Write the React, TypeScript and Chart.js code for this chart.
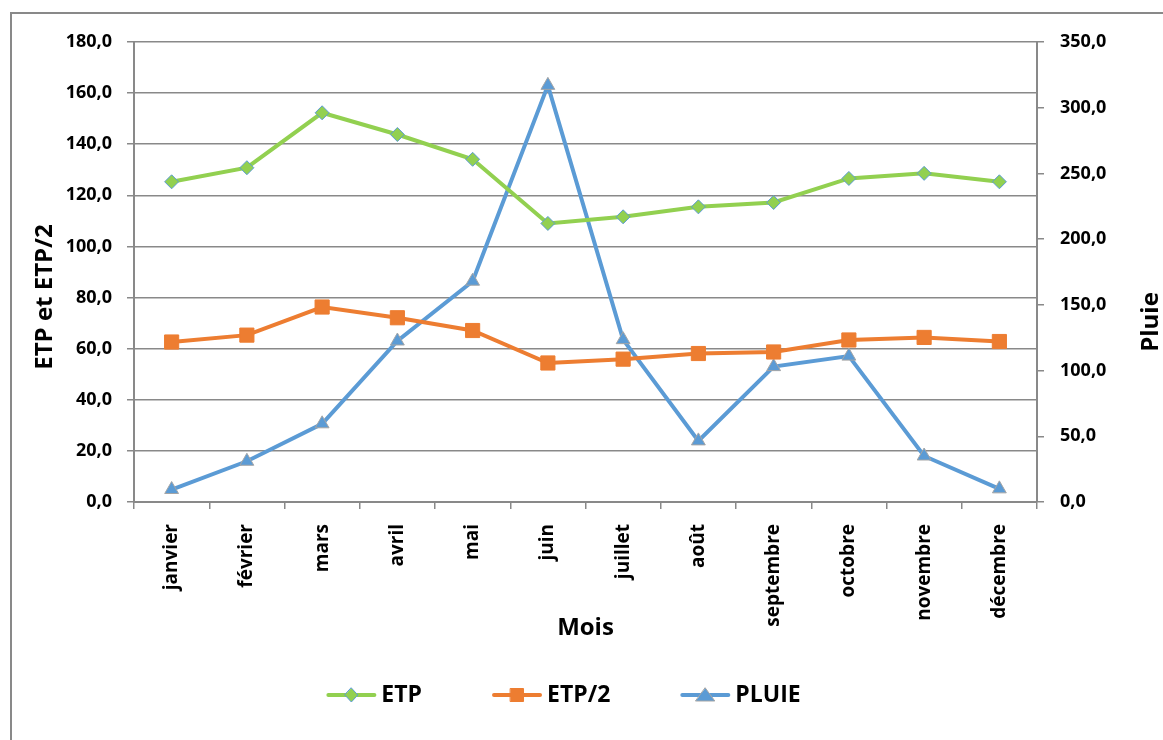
import React, { useEffect, useRef } from "react";
import { Chart, registerables } from "chart.js";

Chart.register(...registerables);

const MONTHS = ["janvier", "février", "mars", "avril", "mai", "juin", "juillet", "août", "septembre", "octobre", "novembre", "décembre"];
const ETP = [125.3, 130.8, 152.3, 143.8, 134.1, 109.0, 111.6, 115.5, 117.2, 126.6, 128.6, 125.3];
const ETP_HALF = [62.6, 65.3, 76.3, 72.1, 67.1, 54.4, 55.9, 58.1, 58.7, 63.4, 64.4, 62.8];
const PLUIE = [9.5, 31, 59.5, 122.5, 168, 317, 123.5, 46.5, 103, 111, 35, 10];
const SERIES_NAMES = ["ETP", "ETP/2", "PLUIE"];
const MARKERS = ["diamond", "square", "triangle"];
const X_TITLE = "Mois";
const Y_TITLE = "ETP et ETP/2";
const Y1_TITLE = "Pluie";
const Y_MAX = 180;
const Y_STEP = 20;
const Y1_MAX = 350;
const Y1_STEP = 50;

const FONT = '"Open Sans", "Noto Sans", sans-serif';
const GREEN = "#92D050";
const ORANGE = "#ED7D31";
const BLUE = "#5B9BD5";
const GREY = "#898989";

function fmt(v: number | string) {
  return Number(v).toFixed(1).replace(".", ",");
}

function drawMarker(ctx: CanvasRenderingContext2D, kind: string, x: number, y: number, fill: string, border: string) {
  ctx.save();
  ctx.fillStyle = fill;
  ctx.strokeStyle = border;
  ctx.lineWidth = 1;
  ctx.beginPath();
  if (kind === "diamond") {
    ctx.moveTo(x, y - 7);
    ctx.lineTo(x + 6.5, y);
    ctx.lineTo(x, y + 7);
    ctx.lineTo(x - 6.5, y);
    ctx.closePath();
  } else if (kind === "square") {
    ctx.rect(x - 6.5, y - 6.5, 13, 13);
  } else {
    ctx.moveTo(x, y - 7);
    ctx.lineTo(x + 9.5, y + 6);
    ctx.lineTo(x - 9.5, y + 6);
    ctx.closePath();
  }
  ctx.fill();
  ctx.stroke();
  ctx.restore();
}

const legendPlugin = {
  id: "excelLegend",
  afterDraw(chart: any) {
    const ctx: CanvasRenderingContext2D = chart.ctx;
    ctx.save();
    ctx.font = `bold 23px ${FONT}`;
    const LINE = 50;
    const GAP = 5;
    const SEP = 70;
    const items = chart.data.datasets.map((d: any) => ({ d, w: ctx.measureText(d.label).width }));
    const total =
      items.reduce((s: number, it: any) => s + LINE + GAP + it.w, 0) + SEP * (items.length - 1);
    let x = (chart.chartArea.left + chart.chartArea.right) / 2 - 22 - total / 2;
    const y = chart.height - 45;
    items.forEach(({ d, w }: any, i: number) => {
      ctx.strokeStyle = d.borderColor;
      ctx.lineWidth = 4;
      ctx.lineCap = "round";
      ctx.beginPath();
      ctx.moveTo(x + 2, y);
      ctx.lineTo(x + LINE - 2, y);
      ctx.stroke();
      drawMarker(ctx, MARKERS[i], x + LINE / 2, y, d.pointBackgroundColor, d.pointBorderColor);
      ctx.fillStyle = "#000";
      ctx.textAlign = "left";
      ctx.textBaseline = "middle";
      ctx.fillText(d.label, x + LINE + GAP, y);
      x += LINE + GAP + w + SEP;
    });
    ctx.restore();
  },
};

const axisTitlesPlugin = {
  id: "axisTitles",
  afterDraw(chart: any) {
    const ctx: CanvasRenderingContext2D = chart.ctx;
    const area = chart.chartArea;
    const draw = (text: string, x: number, y: number) => {
      ctx.save();
      ctx.translate(x, y);
      ctx.rotate(-Math.PI / 2);
      ctx.font = `bold 24px ${FONT}`;
      ctx.textAlign = "center";
      ctx.textBaseline = "middle";
      ctx.fillStyle = "#000";
      ctx.fillText(text, 0, 0);
      ctx.restore();
    };
    draw(Y_TITLE, chart.scales.y.left + 33, area.top + 255);
    draw(Y1_TITLE, chart.scales.y1.right - 12, area.top + 280);
  },
};

export default function App() {
  const ref = useRef<HTMLCanvasElement>(null);

  useEffect(() => {
    const chart = new Chart(ref.current!, {
      type: "line",
      data: {
        labels: MONTHS,
        datasets: [
          {
            label: SERIES_NAMES[0],
            data: ETP,
            yAxisID: "y",
            borderColor: GREEN,
            backgroundColor: GREEN,
            borderWidth: 4,
            pointStyle: "rectRot",
            pointRadius: 7,
            pointBackgroundColor: GREEN,
            pointBorderColor: BLUE,
            pointBorderWidth: 1,
            tension: 0,
          },
          {
            label: SERIES_NAMES[1],
            data: ETP_HALF,
            yAxisID: "y",
            borderColor: ORANGE,
            backgroundColor: ORANGE,
            borderWidth: 4,
            pointStyle: "rect",
            pointRadius: 10,
            pointBackgroundColor: ORANGE,
            pointBorderColor: ORANGE,
            pointBorderWidth: 1,
            tension: 0,
          },
          {
            label: SERIES_NAMES[2],
            data: PLUIE,
            yAxisID: "y1",
            borderColor: BLUE,
            backgroundColor: BLUE,
            borderWidth: 4,
            pointStyle: "triangle",
            pointRadius: 8,
            pointBackgroundColor: BLUE,
            pointBorderColor: "#A5A5A5",
            pointBorderWidth: 1,
            tension: 0,
          },
        ],
      },
      options: {
        responsive: false,
        animation: false,
        layout: { padding: { left: 12, top: 42, right: 0, bottom: 88 } },
        plugins: {
          tooltip: { enabled: false },
          legend: { display: false },
        },
        scales: {
          x: {
            offset: true,
            grid: {
              offset: true,
              drawOnChartArea: false,
              drawTicks: true,
              tickLength: 7,
              color: GREY,
              lineWidth: 1.5,
            },
            border: { display: true, color: GREY, width: 2 },
            ticks: {
              minRotation: 90,
              maxRotation: 90,
              padding: 15,
              color: "#000",
              font: { family: FONT, size: 19, weight: "bold" },
            },
            title: {
              display: true,
              text: X_TITLE,
              color: "#000",
              font: { family: FONT, size: 24, weight: "bold" },
              padding: { top: 0, bottom: 9 },
            },
            afterFit: (s: any) => {
              s.height = 150;
            },
          },
          y: {
            position: "left",
            min: 0,
            max: Y_MAX,
            ticks: {
              stepSize: Y_STEP,
              padding: 15,
              color: "#000",
              font: { family: FONT, size: 18, weight: "bold" },
              callback: (v: any) => fmt(v),
            },
            grid: { color: GREY, lineWidth: 1.5, tickLength: 7 },
            border: { display: true, color: GREY, width: 2 },
            afterFit: (s: any) => {
              s.width = 122;
            },
          },
          y1: {
            position: "right",
            min: 0,
            max: Y1_MAX,
            ticks: {
              stepSize: Y1_STEP,
              padding: 16,
              color: "#000",
              font: { family: FONT, size: 18, weight: "bold" },
              callback: (v: any) => fmt(v),
            },
            grid: { drawOnChartArea: false, color: GREY, lineWidth: 1.5, tickLength: 7 },
            border: { display: true, color: GREY, width: 2 },
            afterFit: (s: any) => {
              s.width = 126;
            },
          },
        },
      } as any,
      plugins: [axisTitlesPlugin, legendPlugin],
    });
    return () => chart.destroy();
  }, []);

  return (
    <div
      style={{
        position: "fixed",
        left: 0,
        top: 0,
        width: 1163,
        height: 740,
        overflow: "hidden",
        background: "#fff",
      }}
    >
      <div
        style={{
          position: "absolute",
          left: 10,
          top: 12,
          width: 1200,
          height: 800,
          border: `2px solid ${GREY}`,
        }}
      />
      <canvas ref={ref} width={1163} height={740} style={{ position: "absolute", left: 0, top: 0 }} />
    </div>
  );
}
